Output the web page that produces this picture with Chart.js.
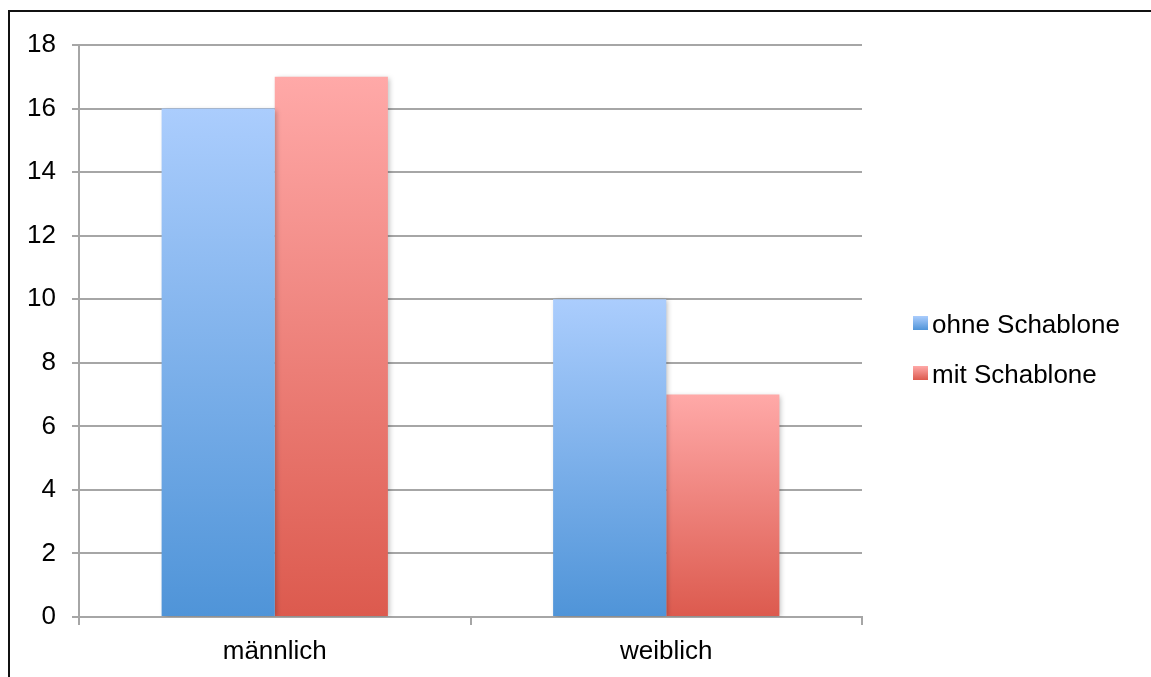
<!DOCTYPE html>
<html>
<head>
<meta charset="utf-8">
<script src="https://cdn.jsdelivr.net/npm/chart.js@4"></script>
<style>
  html, body { margin: 0; background: #fff; overflow: hidden; width: 1151px; height: 677px; }
  #rahmen { position: absolute; left: 8px; top: 10px; width: 1200px; height: 720px; border: 2px solid #111; }
  #wrap { position: absolute; left: 0; top: 0; width: 1151px; height: 677px; }
</style>
</head>
<body>
<div id="rahmen"></div>
<div id="wrap"><canvas id="grafik" width="1151" height="677"></canvas></div>
<script>
// Daten
const kategorien = ['männlich', 'weiblich'];
const serien = ['ohne Schablone', 'mit Schablone'];
const ohneSchablone = [16, 10];
const mitSchablone = [17, 7];
const yTicks = [0, 2, 4, 6, 8, 10, 12, 14, 16, 18];

const schrift = '"Liberation Sans", Arial, sans-serif';

// Farbverläufe (oben hell, unten dunkel)
const farben = [
  { oben: '#abcdfd', unten: '#4f94d8' },
  { oben: '#ffa9a8', unten: '#dc5a4e' }
];

function verlauf(ctx, top, bottom, f) {
  const g = ctx.createLinearGradient(0, top, 0, bottom);
  g.addColorStop(0, f.oben);
  g.addColorStop(1, f.unten);
  return g;
}

function balkenFarbe(idx) {
  return (context) => {
    const chart = context.chart;
    const y = chart.scales.y;
    if (!y || context.raw === undefined) return farben[idx].unten;
    const top = y.getPixelForValue(context.raw);
    const bottom = y.getPixelForValue(0);
    if (!isFinite(top) || !isFinite(bottom) || top === bottom) return farben[idx].unten;
    return verlauf(chart.ctx, top, bottom, farben[idx]);
  };
}

// Schatten hinter den Balken
const schatten = {
  id: 'schatten',
  beforeDatasetsDraw(chart) {
    const c = chart.ctx;
    c.save();
    c.shadowColor = 'rgba(0,0,0,0.25)';
    c.shadowBlur = 5;
    c.shadowOffsetX = 2;
    c.shadowOffsetY = 1;
  },
  afterDatasetsDraw(chart) {
    chart.ctx.restore();
  }
};

// Legende rechts
const legende = {
  id: 'legende',
  afterDraw(chart) {
    const c = chart.ctx;
    c.save();
    c.font = '26px ' + schrift;
    c.textBaseline = 'alphabetic';
    const grundlinie = [333, 383];
    serien.forEach((name, i) => {
      const y = grundlinie[i];
      c.fillStyle = verlauf(c, y - 17, y - 3, farben[i]);
      c.fillRect(913, y - 17, 15, 14);
      c.fillStyle = '#000';
      c.fillText(name, 932, y);
    });
    c.restore();
  }
};

new Chart(document.getElementById('grafik'), {
  type: 'bar',
  data: {
    labels: kategorien,
    datasets: [
      { label: serien[0], data: ohneSchablone, backgroundColor: balkenFarbe(0) },
      { label: serien[1], data: mitSchablone, backgroundColor: balkenFarbe(1) }
    ]
  },
  options: {
    responsive: false,
    animation: false,
    layout: { padding: { top: 45, right: 289, left: 0, bottom: 0 } },
    datasets: { bar: { categoryPercentage: 0.578, barPercentage: 1.0 } },
    plugins: { legend: { display: false }, tooltip: { enabled: false } },
    scales: {
      x: {
        offset: true,
        grid: { offset: true, drawOnChartArea: false, drawTicks: true, tickLength: 8, color: '#a6a6a6', lineWidth: 2 },
        border: { color: '#a6a6a6', width: 2 },
        ticks: { color: '#000', padding: 11, font: { family: schrift, size: 26 } },
        afterFit(s) { s.height = 60; }
      },
      y: {
        min: 0,
        max: 18,
        afterBuildTicks(s) { s.ticks = yTicks.map(v => ({ value: v })); },
        grid: { color: '#a6a6a6', lineWidth: 2, tickLength: 7 },
        border: { color: '#a6a6a6', width: 2 },
        ticks: { color: '#000', padding: 16, font: { family: schrift, size: 26 } },
        afterFit(s) { s.width = 79; }
      }
    }
  },
  plugins: [schatten, legende]
});
</script>
</body>
</html>
